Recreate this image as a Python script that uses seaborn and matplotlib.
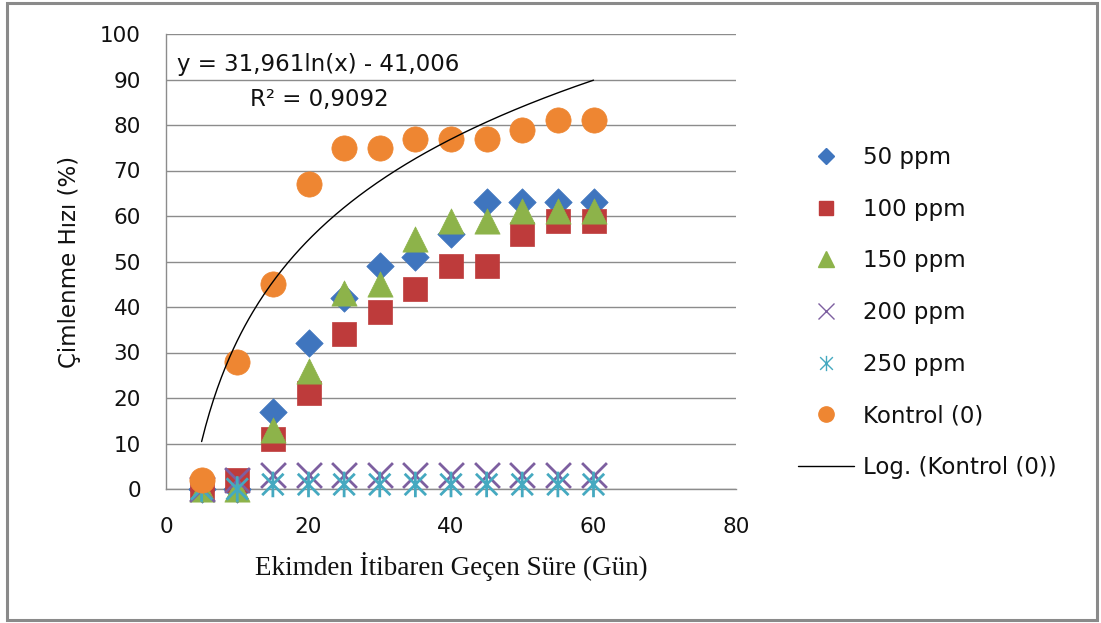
import numpy as np
import pandas as pd
import matplotlib
matplotlib.use("Agg")
import matplotlib.pyplot as plt
from matplotlib.path import Path
from matplotlib.markers import MarkerStyle
from matplotlib.lines import Line2D
from matplotlib.patches import Rectangle
import seaborn as sns

# Germination rate (%) by days after sowing, per treatment
days = [5, 10, 15, 20, 25, 30, 35, 40, 45, 50, 55, 60]
ppm_50 = [0, 0, 17, 32, 42, 49, 51, 56, 63, 63, 63, 63]
ppm_100 = [0, 2, 11, 21, 34, 39, 44, 49, 49, 56, 59, 59]
ppm_150 = [0, 0, 13, 26, 43, 45, 55, 59, 59, 61, 61, 61]
ppm_200 = [0, 2, 3, 3, 3, 3, 3, 3, 3, 3, 3, 3]
ppm_250 = [0, 0, 1, 1, 1, 1, 1, 1, 1, 1, 1, 1]
kontrol = [2, 28, 45, 67, 75, 75, 77, 77, 77, 79, 81, 81]

series_names = ["50 ppm", "100 ppm", "150 ppm", "200 ppm", "250 ppm", "Kontrol (0)"]
series_values = [ppm_50, ppm_100, ppm_150, ppm_200, ppm_250, kontrol]

# Logarithmic trend of the control series
fit_a = 31.961
fit_b = -41.006
fit_r2 = 0.9092
fit_label = "Log. (Kontrol (0))"

x_ticks = [0, 20, 40, 60, 80]
y_ticks = [0, 10, 20, 30, 40, 50, 60, 70, 80, 90, 100]

sns.set_theme(style="white")
plt.rcParams["font.family"] = ["DejaVu Sans"]

# asterisk marker: an X with a vertical bar
star_path = Path(
    [(-1, -1), (1, 1), (-1, 1), (1, -1), (0, -1.2), (0, 1.2)],
    [Path.MOVETO, Path.LINETO, Path.MOVETO, Path.LINETO, Path.MOVETO, Path.LINETO],
)
star_marker = MarkerStyle(star_path, fillstyle="none")

colors = ["#3F75BE", "#BE3B3B", "#8DB34A", "#7D5FA0", "#45A9C0", "#EE8632"]
markers = ["D", "s", "^", "x", star_marker, "o"]
sizes = [195, 300, 330, 320, 340, 330]
widths = [0.5, 0.5, 0.5, 2.0, 2.0, 0.5]

fig = plt.figure(figsize=(11.01, 6.23), dpi=100)
ax = fig.add_axes([166 / 1101, 1 - 489 / 623, (736 - 166) / 1101, (489 - 34) / 623])

frames = []
for name, vals in zip(series_names, series_values):
    frames.append(pd.DataFrame({"day": days, "rate": vals, "series": name}))
df = pd.concat(frames, ignore_index=True)

for i, name in enumerate(series_names):
    sub = df[df["series"] == name]
    kw = dict(x="day", y="rate", data=sub, ax=ax, marker=markers[i], s=sizes[i],
              color=colors[i], linewidth=widths[i], zorder=3 + i, legend=False)
    if markers[i] != "x" and markers[i] is not star_marker:
        kw["edgecolor"] = colors[i]
    sns.scatterplot(**kw)

# trend line from the fitted equation
fit_x = np.linspace(min(days), max(days), 200)
fit_df = pd.DataFrame({"day": fit_x, "rate": fit_a * np.log(fit_x) + fit_b})
sns.lineplot(data=fit_df, x="day", y="rate", ax=ax, color="black", linewidth=1.0,
             zorder=10, legend=False)

ax.set_xlim(0, 80)
ax.set_ylim(0, 100)
ax.set_xticks(x_ticks)
ax.set_yticks(y_ticks)
ax.set_xticklabels([str(t) for t in x_ticks])
ax.set_yticklabels([str(t) for t in y_ticks])
ax.yaxis.grid(True, color="#8C8C8C", linewidth=1.0)
ax.xaxis.grid(False)
ax.set_axisbelow(True)
for side in ("top", "right"):
    ax.spines[side].set_visible(False)
for side in ("left", "bottom"):
    ax.spines[side].set_color("#8C8C8C")
    ax.spines[side].set_linewidth(1.0)
ax.tick_params(axis="both", which="both", direction="out", colors="#8C8C8C",
               labelcolor="#111111", labelsize=15.5, width=1.0)
ax.tick_params(axis="y", length=6, pad=12)
ax.tick_params(axis="x", length=7, pad=13)
for coll in ax.collections:
    coll.set_clip_on(False)

ax.set_xlabel("Ekimden İtibaren Geçen Süre (Gün)", fontsize=19.5,
              family="Liberation Serif", color="#111111", labelpad=11)
ax.set_ylabel("Çimlenme Hızı (%)", fontsize=16.5, color="#111111", labelpad=14)

ax.text(1.6, 93.2, f"y = {fit_a:.3f}ln(x) - {abs(fit_b):.3f}".replace(".", ","),
        fontsize=16.5, color="#111111", va="center", ha="left", zorder=12)
ax.text(11.8, 85.6, f"R² = {fit_r2:.4f}".replace(".", ","),
        fontsize=16.5, color="#111111", va="center", ha="left", zorder=12)

handles = []
for i, name in enumerate(series_names):
    m = markers[i]
    if m == "x" or m is star_marker:
        h = Line2D([], [], linestyle="none", marker=m, markersize=11,
                   markeredgecolor=colors[i], markeredgewidth=1.0, label=name)
    else:
        ms = {"D": 8, "s": 10.5, "^": 11, "o": 11}[m]
        h = Line2D([], [], linestyle="none", marker=m, markersize=ms,
                   markerfacecolor=colors[i], markeredgecolor=colors[i], label=name)
    handles.append(h)
handles.append(Line2D([], [], color="black", linewidth=1.0, label=fit_label))

fig.legend(handles=handles, loc="upper left",
           bbox_to_anchor=(789 / 1101, 1 - 137 / 623), frameon=False,
           fontsize=16.5, handlelength=2.45, handletextpad=0.4, labelspacing=1.25,
           borderaxespad=0, borderpad=0.4, labelcolor="#111111")

fig.patches.append(Rectangle((7 / 1101, 3 / 623), (1097 - 7) / 1101, (620 - 3) / 623,
                             transform=fig.transFigure, fill=False,
                             edgecolor="#8A8A8A", linewidth=2.2))

fig.savefig("out.png", dpi=100, facecolor="white")
